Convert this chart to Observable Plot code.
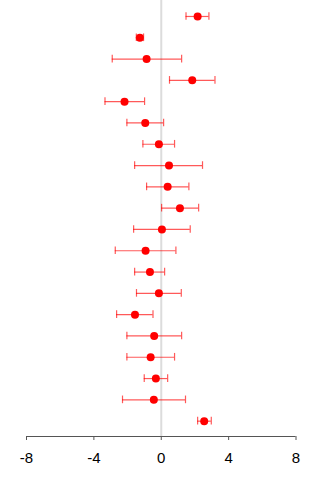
<!DOCTYPE html>
<html>
<head>
<meta charset="utf-8">
<script src="https://cdn.jsdelivr.net/npm/d3@7"></script>
<script src="https://cdn.jsdelivr.net/npm/@observablehq/plot@0.6"></script>
<style>
  html, body { margin: 0; padding: 0; background: #fff; }
</style>
</head>
<body>
<div id="chart"></div>
<script>
// Row order from top (1) to bottom (20)
const rows = d3.range(1, 21);
// Point estimates
const estimate = [2.16, -1.27, -0.87, 1.84, -2.18, -0.95, -0.14, 0.46, 0.38, 1.11,
                  0.04, -0.93, -0.67, -0.14, -1.56, -0.42, -0.63, -0.32, -0.44, 2.55];
// Lower interval bounds
const lower = [1.47, -1.48, -2.91, 0.49, -3.34, -2.04, -1.09, -1.58, -0.87, 0.02,
               -1.64, -2.73, -1.58, -1.47, -2.65, -2.04, -2.04, -1.01, -2.30, 2.16];
// Upper interval bounds
const upper = [2.83, -1.05, 1.21, 3.19, -0.99, 0.14, 0.79, 2.45, 1.64, 2.22,
               1.72, 0.87, 0.20, 1.19, -0.49, 1.21, 0.79, 0.38, 1.44, 2.97];
const xTicks = [-8, -4, 0, 4, 8];

const data = rows.map((r, i) => ({row: r, est: estimate[i], lo: lower[i], hi: upper[i]}));

const yTop = 0.25, yBottom = 20.72;
const cap = 0.18;
const red = "#ff0000";
const barStyle = {stroke: red, strokeOpacity: 0.65, strokeWidth: 1.2};

const chart = Plot.plot({
  width: 320,
  height: 480,
  marginTop: 0,
  marginBottom: 44,
  marginLeft: 26,
  marginRight: 24.5,
  style: {fontFamily: "'Liberation Sans', Arial, sans-serif", background: "#fff"},
  x: {domain: [-8, 8]},
  y: {domain: [yBottom, yTop], axis: null},
  marks: [
    Plot.ruleX([0], {stroke: "#dcdcdc", strokeWidth: 2}),
    Plot.ruleY(data, {y: "row", x1: "lo", x2: "hi", ...barStyle}),
    Plot.ruleX(data, {x: "lo", y1: d => d.row - cap, y2: d => d.row + cap, ...barStyle}),
    Plot.ruleX(data, {x: "hi", y1: d => d.row - cap, y2: d => d.row + cap, ...barStyle}),
    Plot.dot(data, {x: "est", y: "row", r: 4, fill: red, stroke: "none"}),
    Plot.ruleY([yBottom], {x1: -8, x2: 8, stroke: "#555"}),
    Plot.axisX({ticks: xTicks, tickSize: 4, tickPadding: 12, stroke: "#555", fill: "#000", fontSize: 15, label: null, tickFormat: d => String(d).replace("−", "-")})
  ]
});
document.getElementById("chart").appendChild(chart);
</script>
</body>
</html>
